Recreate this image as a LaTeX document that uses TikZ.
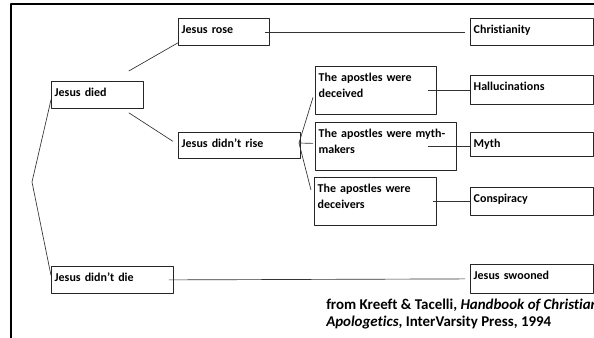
\documentclass[tikz,border=0pt]{standalone}
\usepackage{fontspec}
\setmainfont{Carlito}[Ligatures=NoCommon]
\usepackage{tikz}
\usetikzlibrary{calc}

\begin{document}
\begin{tikzpicture}[x=0.75pt,y=-0.75pt,join=round, % Argument tree
    cell/.style 2 args={draw=black!85,line width=0.6pt,anchor=north west,align=left,
        inner xsep=2.5pt,inner ysep=4pt,text height=7pt,
        text width={#1*0.75pt-5pt},text depth={#2*0.75pt-15pt},
        font=\fontsize{9}{12}\selectfont\bfseries},
    link/.style={draw=black!80,line width=0.5pt}]
       \useasboundingbox (0,0) rectangle (594,338);
       \draw[line width=0.9pt] (11,338)--(11,4)--(594,4);
       % first split
       \node[cell={92}{27}] (died) at (51,81) {Jesus died};
       \node[cell={122}{27}] (didntdie) at (51,266) {Jesus didn’t die};
       % second split
       \node[cell={91}{27}] (rose) at (178,18) {Jesus rose};
       \node[cell={122}{26}] (didntrise) at (178,132) {Jesus didn’t rise};
       % third split
       \node[cell={121}{48}] (deceived) at (315,66) {The apostles were\\deceived};
       \node[cell={141}{48}] (mythmakers) at (315,122) {The apostles were myth-\\makers};
       \node[cell={122}{48}] (deceivers) at (314,177) {The apostles were\\deceivers};
       % outcomes
       \node[cell={123}{27}] (christ) at (470,18) {Christianity};
       \node[cell={123}{29}] (halluc) at (470,75) {Hallucinations};
       \node[cell={123}{24}] (myth) at (470,132) {Myth};
       \node[cell={123}{28}] (consp) at (470,187) {Conspiracy};
       \node[cell={123}{29}] (swooned) at (470,264) {Jesus swooned};
       \node[anchor=north west,align=left,inner sep=0pt,
             font=\fontsize{11.2}{12.75}\selectfont\bfseries] (source) at (326,299)
             {from Kreeft \& Tacelli, \textit{Handbook of Christian}\\\textit{Apologetics}, InterVarsity Press, 1994};
       % connectors
       \coordinate (fork1) at (32,182);
       \coordinate (fork2) at (299,143);
       \draw[link] ($(died.south west)+(0,-9)$)--(fork1)--($(didntdie.west)+(0,-4.5)$);
       \draw[link] ($(died.north east)+(-15,-10)$)--($(rose.south west)+(0,-3)$);
       \draw[link] ($(died.south east)+(-15,4)$)--($(didntrise.west)+(-5,-4)$);
       \draw[link] ($(rose.east)+(-5,0)$)--($(christ.west)+(-5,0)$);
       \draw[link] ($(didntdie.east)+(-5,0)$)--($(swooned.west)+(-5,0)$);
       \draw[link] ($(deceived.west)+(-2,7)$)--(fork2)--($(deceivers.north west)+(-3,13)$);
       \draw[link] (fork2)--($(mythmakers.west)+(-2,-3)$);
       \draw[link] ($(deceived.east)+(-9,0)$)--(deceived.east -| halluc.west);
       \draw[link] ($(mythmakers.east)+(-29,0)$)--(mythmakers.east -| myth.west);
       \draw[link] ($(deceivers.east)+(-4,0)$)--(deceivers.east -| consp.west);
\end{tikzpicture}
\end{document}
